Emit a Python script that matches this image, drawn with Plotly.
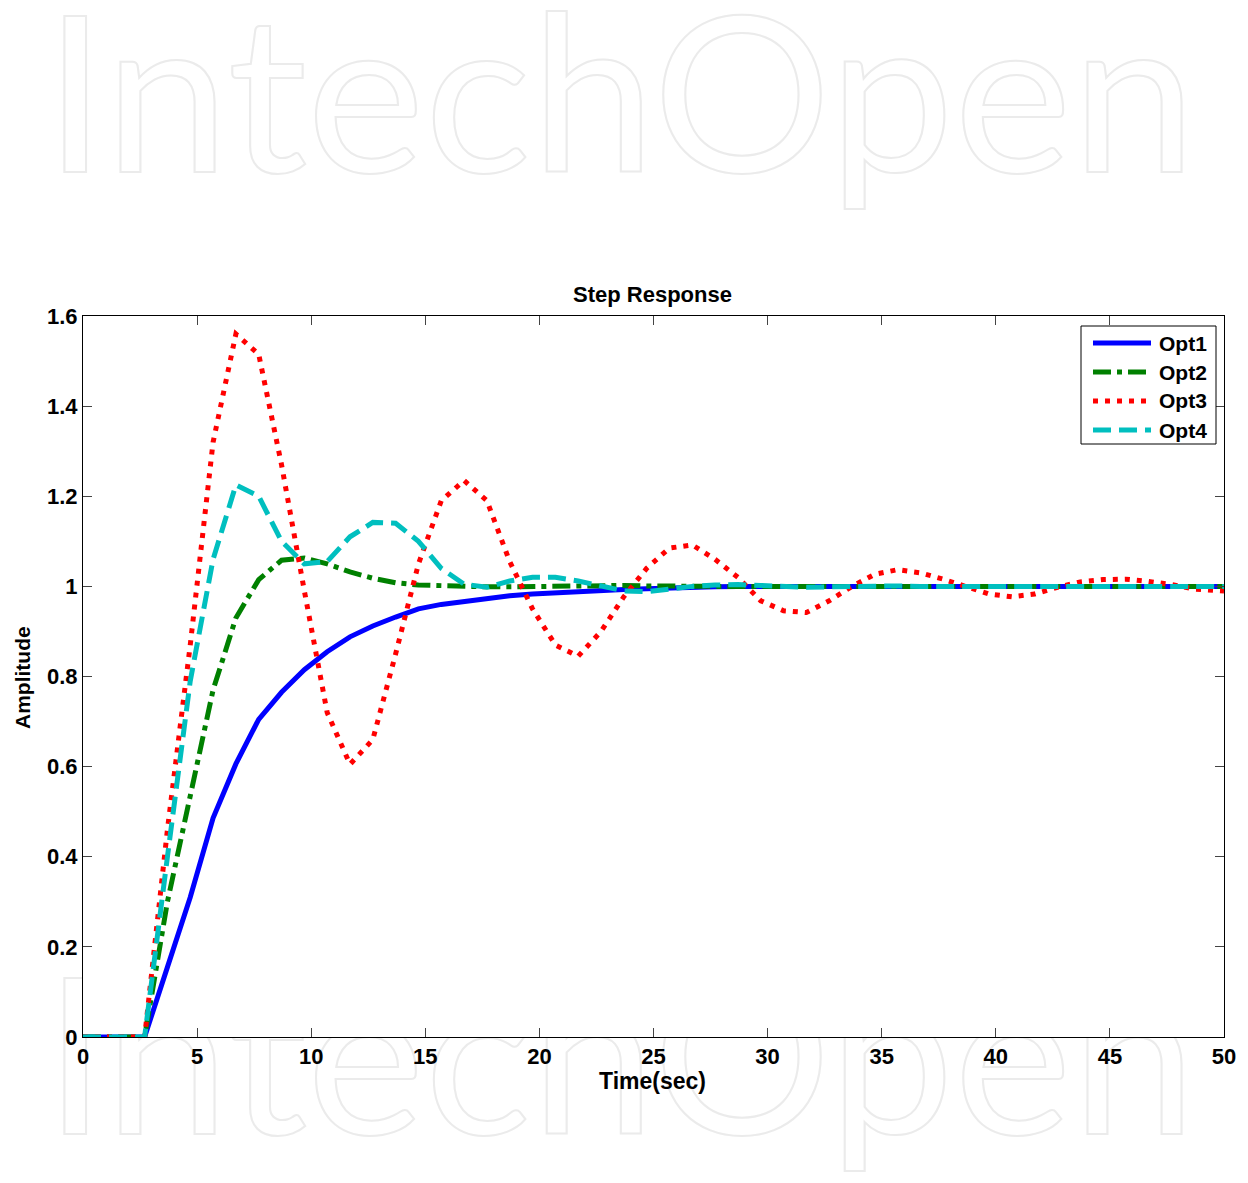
import base64
import plotly.graph_objects as go

# ---- data ----
time_s = [0, 2.7, 3.7, 4.7, 5.7, 6.7, 7.7, 8.7, 9.7, 10.7,
          11.7, 12.7, 13.7, 14.7, 15.7, 16.7, 17.7, 18.7, 19.7, 20.7,
          21.7, 22.7, 23.7, 24.7, 25.7, 26.7, 27.7, 28.7, 29.7, 30.7,
          31.7, 32.7, 33.7, 34.7, 35.7, 36.7, 37.7, 38.7, 39.7, 40.7,
          41.7, 42.7, 43.7, 44.7, 45.7, 46.7, 47.7, 48.7, 49.7, 50]

opt1 = [0, 0, 0.155, 0.31, 0.486, 0.606, 0.705, 0.765, 0.815, 0.855,
        0.888, 0.912, 0.932, 0.95, 0.96, 0.967, 0.974, 0.979, 0.983, 0.986,
        0.989, 0.991, 0.993, 0.995, 0.997, 0.998, 0.999, 1.0, 1.0, 1.0,
        1.0, 1.0, 1.0, 1.0, 1.0, 1.0, 1.0, 1.0, 1.0, 1.0,
        1.0, 1.0, 1.0, 1.0, 1.0, 1.0, 1.0, 1.0, 1.0, 1.0]

opt2 = [0, 0, 0.30, 0.54, 0.77, 0.93, 1.015, 1.058, 1.063, 1.05,
        1.032, 1.018, 1.008, 1.003, 1.001, 1.0, 0.999, 0.999, 1.0, 1.001,
        1.002, 1.002, 1.002, 1.001, 1.0, 1.0, 1.0, 1.0, 1.0, 1.0,
        1.0, 1.0, 1.0, 1.0, 1.0, 1.0, 1.0, 1.0, 1.0, 1.0,
        1.0, 1.0, 1.0, 1.0, 1.0, 1.0, 1.0, 1.0, 1.0, 1.0]

opt3 = [0, 0, 0.46, 0.87, 1.32, 1.56, 1.515, 1.27, 0.99, 0.72,
        0.605, 0.66, 0.85, 1.05, 1.19, 1.235, 1.19, 1.055, 0.95, 0.87,
        0.845, 0.90, 0.977, 1.04, 1.085, 1.092, 1.06, 1.02, 0.968, 0.946,
        0.942, 0.968, 1.0, 1.027, 1.037, 1.03, 1.016, 0.999, 0.983, 0.977,
        0.983, 0.998, 1.01, 1.015, 1.016, 1.011, 1.004, 0.994, 0.99, 0.99]

opt4 = [0, 0, 0.40, 0.79, 1.06, 1.225, 1.20, 1.10, 1.05, 1.055,
        1.11, 1.142, 1.14, 1.10, 1.04, 1.005, 0.998, 1.012, 1.02, 1.02,
        1.012, 1.0, 0.99, 0.988, 0.995, 1.0, 1.003, 1.004, 1.002, 0.999,
        0.998, 0.999, 1.0, 1.001, 1.001, 1.0, 1.0, 1.0, 1.0, 1.0,
        1.0, 1.0, 1.0, 1.0, 1.0, 1.0, 1.0, 1.0, 1.0, 1.0]

series_names = ["Opt1", "Opt2", "Opt3", "Opt4"]
x_ticks = [0, 5, 10, 15, 20, 25, 30, 35, 40, 45, 50]
y_ticks = [0, 0.2, 0.4, 0.6, 0.8, 1, 1.2, 1.4, 1.6]

# ---- figure ----
W, H = 1248, 1183
L, R, T, B = 83, 24, 316, 146
PW, PH = W - L - R, H - T - B


def px_x(p):
    return (p - L) / PW


def px_y(p):
    return (H - B - p) / PH


FONT = "Liberation Sans, Arial, sans-serif"

styles = [
    dict(color="#0000ff", width=5, dash="solid"),
    dict(color="#008000", width=5, dash="18px,6px,5px,6px"),
    dict(color="#ff0000", width=5, dash="5px,7px"),
    dict(color="#00bfbf", width=5, dash="18px,8px"),
]

fig = go.Figure()
for name, ys, st in zip(series_names, [opt1, opt2, opt3, opt4], styles):
    fig.add_trace(go.Scatter(x=time_s, y=ys, mode="lines", name=name,
                             line=dict(color=st["color"], width=st["width"], dash=st["dash"]),
                             showlegend=False))

# faint watermark
svg = f'''<svg xmlns="http://www.w3.org/2000/svg" width="{W}" height="{H}" viewBox="0 0 {W} {H}">
<g font-family="Lato, 'Open Sans', sans-serif" font-size="218" fill="none" stroke="#ebebeb" stroke-width="2">
<text x="44" y="172" textLength="1152" lengthAdjust="spacingAndGlyphs">IntechOpen</text>
<text x="44" y="1134" textLength="1152" lengthAdjust="spacingAndGlyphs">IntechOpen</text>
</g></svg>'''
src = "data:image/svg+xml;base64," + base64.b64encode(svg.encode()).decode()

axis_common = dict(showline=True, linecolor="black", linewidth=1, mirror="ticks",
                   ticks="inside", ticklen=9, tickcolor="#444", tickwidth=1,
                   showgrid=False, zeroline=False,
                   tickfont=dict(family=FONT, size=22, color="black", weight="bold"))

shapes = [
    # white plot area covering the watermark
    dict(type="rect", xref="paper", yref="paper", x0=0, x1=1, y0=0, y1=1,
         fillcolor="white", line=dict(width=0), layer="below"),
    # legend box
    dict(type="rect", xref="paper", yref="paper",
         x0=px_x(1081), x1=px_x(1216), y0=px_y(444), y1=px_y(326),
         fillcolor="white", line=dict(color="black", width=1), layer="above"),
]
annotations = [
    dict(text="Step Response", x=px_x(652), y=px_y(294), xref="paper", yref="paper",
         showarrow=False, xanchor="center", yanchor="middle",
         font=dict(family=FONT, size=22, color="black", weight="bold")),
    dict(text="Time(sec)", x=px_x(652), y=px_y(1081), xref="paper", yref="paper",
         showarrow=False, xanchor="center", yanchor="middle",
         font=dict(family=FONT, size=23, color="black", weight="bold")),
    dict(text="Amplitude", x=px_x(22), y=px_y(678), xref="paper", yref="paper",
         showarrow=False, xanchor="center", yanchor="middle", textangle=-90,
         font=dict(family=FONT, size=21, color="black", weight="bold")),
]
legend_rows = [343, 372, 401, 430]
for name, st, ry in zip(series_names, styles, legend_rows):
    shapes.append(dict(type="line", xref="paper", yref="paper",
                       x0=px_x(1093), x1=px_x(1151), y0=px_y(ry), y1=px_y(ry),
                       line=dict(color=st["color"], width=st["width"], dash=st["dash"]),
                       layer="above"))
    annotations.append(dict(text=name, x=px_x(1157), y=px_y(ry), xref="paper", yref="paper",
                            showarrow=False, xanchor="left", yanchor="middle",
                            font=dict(family=FONT, size=21, color="black", weight="bold")))

fig.update_layout(
    width=W, height=H,
    margin=dict(l=L, r=R, t=T, b=B),
    paper_bgcolor="white", plot_bgcolor="white",
    showlegend=False,
    xaxis=dict(range=[0, 50], tickvals=x_ticks, **axis_common),
    yaxis=dict(range=[0, 1.6], tickvals=y_ticks, **axis_common),
    images=[dict(source=src, xref="paper", yref="paper",
                 x=-L / PW, y=(H - B) / PH, sizex=W / PW, sizey=H / PH,
                 xanchor="left", yanchor="top", sizing="stretch", layer="below")],
    shapes=shapes,
    annotations=annotations,
)

fig.write_html("out.html")
